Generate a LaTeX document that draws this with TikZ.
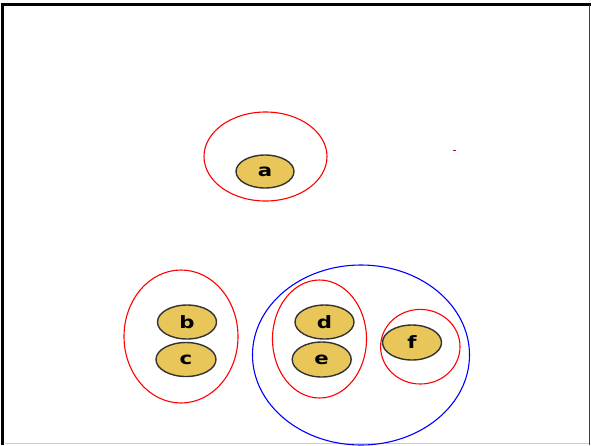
\documentclass[tikz,border=0pt]{standalone}
\usepackage{fontspec}
\usepackage{graphicx}
\setmainfont{DejaVu Sans}
\usetikzlibrary{shapes.geometric}
\newcommand{\widelbl}[1]{\scalebox{1.25}[1]{#1}}
\begin{document}
\begin{tikzpicture}[x=1pt,y=-1pt,
  item/.style={ellipse,draw=black!80,line width=1.4pt,fill={rgb,255:red,232;green,198;blue,90},
    inner sep=0pt,font=\fontsize{17}{17}\selectfont\bfseries},
  grp/.style={draw=red,line width=1.1pt},
  outer/.style={draw=blue,line width=1.1pt}]
\useasboundingbox (0,0) rectangle (591,445);
\fill[white] (0,0) rectangle (591,445);
% frame
\draw[black,line width=3pt] (2.5,445) -- (2.5,4.5) -- (591,4.5);
\draw[black!75,line width=1.3pt] (589.3,4.5) -- (589.3,445);
\draw[black!20,line width=1.2pt] (5,443.5) -- (589,443.5);
% groups
\draw[grp] (265.5,156.5) ellipse [x radius=61.5, y radius=44.5];
\draw[grp] (181,336.5) ellipse [x radius=57, y radius=66.5];
\draw[outer] (361,355) ellipse [x radius=108.5, y radius=90];
\draw[grp] (319.5,339) ellipse [x radius=47, y radius=59];
\draw[grp] (420.3,346.7) ellipse [x radius=39.7, y radius=37.3];
\draw[red!70!blue,line width=1pt] (452.5,150.5) -- (456,150.5);
% items
\node[item,minimum width=58pt,minimum height=33pt] (a) at (265,171.5) {\widelbl{a}};
\node[item,minimum width=59pt,minimum height=34pt] (b) at (187,322) {\widelbl{b}};
\node[item,minimum width=60pt,minimum height=34pt] (c) at (186,359.5) {\widelbl{c}};
\node[item,minimum width=59pt,minimum height=34pt] (d) at (324.5,322) {\widelbl{d}};
\node[item,minimum width=59pt,minimum height=35pt] (e) at (321.7,359.5) {\widelbl{e}};
\node[item,minimum width=59pt,minimum height=35pt] (f) at (412,342.5) {\widelbl{f}};
\end{tikzpicture}
\end{document}
